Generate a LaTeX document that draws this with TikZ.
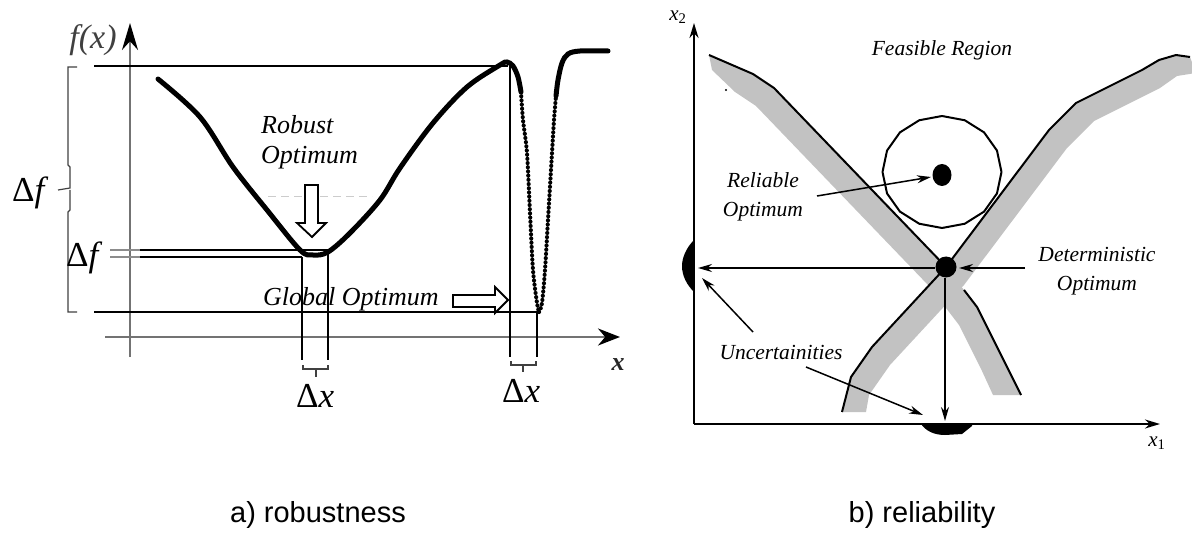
\documentclass[tikz,border=0pt]{standalone}
\usepackage{fontspec}
\setmainfont{Liberation Serif}
\newfontfamily\capfont{Liberation Sans}
\usetikzlibrary{arrows.meta}
\begin{document}
\begin{tikzpicture}[x=1pt,y=-1pt,
  lbl/.style={font=\fontsize{26}{30}\selectfont\itshape, inner sep=0pt, align=left},
  rlbl/.style={font=\fontsize{21.5}{28.5}\selectfont\itshape, inner sep=0pt, align=center},
  dlab/.style={font=\fontsize{35}{38}\selectfont, inner sep=0pt, anchor=base west},
  captext/.style={font=\capfont\fontsize{29}{32}\selectfont, inner sep=0pt},
  ln/.style={line width=2pt, black},
  brk/.style={line width=1.2pt, black!75},
  hollow/.style={line width=1.8pt, draw=black, fill=white, line join=miter},
  arr/.style={line width=1.5pt, -{Stealth[length=14pt,width=8pt]}},
  band/.style={fill=black!24},
  cons/.style={line width=2pt, line join=round},
]
\useasboundingbox (0,0) rectangle (1192,540);

%================ LEFT PANEL =================
\coordinate (fyo) at (130,357); \coordinate (fytip) at (130,23);
\coordinate (fxo) at (105,337); \coordinate (fxtip) at (620,337);
\draw[black!55, line width=2.2pt, -{Stealth[length=27pt,width=16pt,black]}] (fyo) -- (fytip);
\draw[black!55, line width=2.2pt, -{Stealth[length=22pt,width=17pt,black]}] (fxo) -- (fxtip);
\node[font=\fontsize{34}{36}\selectfont\itshape, text=black!75, inner sep=0pt] (flab) at (93,40) {f(x)};
\node[font=\fontsize{26}{28}\selectfont\bfseries\itshape, text=black!85, inner sep=0pt] (xlab) at (618,365) {x};

% faint dashed trace
\draw[black!20, line width=1pt, dash pattern=on 8pt off 5pt] (268,197) -- (372,197);

% main curve
\draw[line width=5pt, line cap=round] plot[smooth, tension=0.55] coordinates {
 (158,79) (200,117) (233,167) (267,210) (300,250) (313,255) (328,252) (350,233)
 (380,200) (400,168) (433,123) (467,87) (500,65) (507,62) (513,66) (518,77) (521,92)};
\draw[line width=4.2pt, line cap=round, dash pattern=on 0pt off 4.2pt] plot[smooth, tension=0.5] coordinates {
 (521,92) (523,120) (527,153) (530,213) (533,270) (537,303) (539,312)};
\draw[line width=4.2pt, line cap=round, dash pattern=on 0pt off 4.2pt] plot[smooth, tension=0.5] coordinates {
 (539,312) (542,303) (545,270) (548,220) (552,153) (554,120) (556,96)};
\draw[line width=5pt, line cap=round] plot[smooth, tension=0.55] coordinates {
 (556,96) (558,80) (562,63) (568,54) (580,51) (608,51)};

% reference lines
\coordinate (tl) at (94,66); \coordinate (tr) at (508,66);
\draw[ln] (tl) -- (tr);
\draw[ln] (510,66) -- (510,357);
\coordinate (bl) at (94,312); \coordinate (br) at (539,312);
\draw[ln] (bl) -- (br);
\draw[ln] (537,312) -- (537,357);
% robust delta f lines
\draw[ln, black!45] (110,250) -- (140,250);
\draw[ln, black!45] (110,257) -- (140,257);
\draw[ln] (140,250) -- (328,250);
\draw[ln] (140,257) -- (302,257);
\draw[ln] (302,257) -- (302,360);
\draw[ln] (328,250) -- (328,360);

% left brace (big delta f)
\draw[brk] (77,67) -- (68,67) -- (68,165) -- (70,167) -- (70,188) -- (58,190);
\draw[brk] (70,190) -- (70,210) -- (68,212) -- (68,312) -- (77,312);
\node[dlab] (dfbig) at (12,202) {Δ\textit{f}};
\node[dlab] (dfsmall) at (66,267) {Δ\textit{f}};

% delta x brackets
\draw[brk] (303,365) -- (303,369) -- (328,369) -- (328,365);
\draw[brk] (316,369) -- (316,377);
\node[dlab] (dxl) at (296,407) {Δ\textit{x}};
\draw[brk] (511,361) -- (511,365) -- (536,365) -- (536,361);
\draw[brk] (523,365) -- (523,372);
\node[dlab] (dxr) at (502,402) {Δ\textit{x}};

% hollow arrows
\draw[hollow] (305,185) -- (318,185) -- (318,223) -- (326,223) -- (312,237) -- (297,223) -- (305,223) -- cycle;
\draw[hollow] (453,295) -- (495,295) -- (495,287) -- (508,300) -- (495,313) -- (495,307) -- (453,307) -- cycle;

\node[lbl, anchor=west] (robust) at (261,142) {Robust\\Optimum};
\node[lbl, anchor=west] (global) at (263,299) {Global Optimum};

%================ RIGHT PANEL =================
\begin{scope}
\clip (0,0) rectangle (1192,540);
% left constraint band
\fill[band] (709,55) -- (753,74) -- (774,88) -- (946,267) -- (964,290) -- (977,307) -- (1000,353) -- (1021,395)
  -- (993,395) -- (982,371) -- (959,325) -- (946,308) -- (928,285) -- (756,106) -- (735,92) -- (712,70) -- cycle;
% right constraint band
\fill[band] (1190,57) -- (1176,55) -- (1159,60) -- (1142,70) -- (1076,103) -- (1049,130) -- (946,267) -- (872,347) -- (851,377) -- (842,412)
  -- (866,412) -- (869,395) -- (890,365) -- (964,285) -- (1067,148) -- (1094,121) -- (1160,88) -- (1177,76) -- (1196,73) -- cycle;
\end{scope}
% stray speck
\fill (726,90) circle (1.2);

% constraint lines
\draw[cons] (709,55) -- (753,74) -- (774,88) -- (946,267);
\draw[cons] (964,290) -- (977,307) -- (1000,353) -- (1021,395);
\draw[cons] (1190,57) -- (1176,55) -- (1159,60) -- (1142,70) -- (1076,103) -- (1049,130) -- (946,267) -- (872,347) -- (851,377) -- (842,412);

% reliability circle (polygon)
\draw[line width=2pt, line join=round] plot[variable=\t, samples at={0,22.5,...,337.5}] ({942+59.5*cos(\t+90)},{172-56*sin(\t+90)}) -- cycle;

% optimum points
\coordinate (rel) at (942,175);
\coordinate (det) at (946,267);
\fill (rel) ellipse (9.5 and 11);
\fill (det) circle (10.5);

% axes
\coordinate (ro) at (694,424);
\coordinate (x2tip) at (694,23);
\coordinate (x1tip) at (1160,424);
\draw[line width=2.2pt, -{Stealth[length=15pt,width=9pt]}] (ro) -- (x2tip);
\draw[line width=2.2pt, -{Stealth[length=15pt,width=9pt]}] (ro) -- (x1tip);
\node[font=\fontsize{21}{24}\selectfont, inner sep=0pt] (x2lab) at (678,17) {\textit{x}\textsubscript{2}};
\node[font=\fontsize{21}{24}\selectfont, inner sep=0pt] (x1lab) at (1157,443) {\textit{x}\textsubscript{1}};

% uncertainty blobs
\fill (694,240) .. controls (686,248) and (682,258) .. (682,266) .. controls (682,276) and (687,285) .. (694,292) -- cycle;
\fill (921,424) .. controls (926,431) and (934,435) .. (945,435) -- (962,434) -- (972,426) -- (972,424) -- cycle;

% labels
\node[rlbl] (feas) at (942,50) {Feasible Region};
\node[rlbl] (rellab) at (763,197) {Reliable\\Optimum};
\node[rlbl] (detlab) at (1097,271) {Deterministic\\Optimum};
\node[rlbl] (unc) at (781,352) {Uncertainities};

% arrows
\coordinate (relA) at (817,196); \coordinate (relB) at (931,177);
\draw[arr] (relA) -- (relB);
\coordinate (detA) at (1025,268); \coordinate (detB) at (959,268);
\draw[arr] (detA) -- (detB);
\coordinate (hA) at (935,268); \coordinate (hB) at (698,268);
\draw[arr] (hA) -- (hB);
\coordinate (vA) at (945,278); \coordinate (vB) at (945,421);
\draw[arr] (vA) -- (vB);
\coordinate (u1A) at (753,332); \coordinate (u1B) at (702,278);
\draw[arr] (u1A) -- (u1B);
\coordinate (u2A) at (806,367); \coordinate (u2B) at (923,415);
\draw[arr] (u2A) -- (u2B);

% captions
\node[captext] (capa) at (318,515) {a) robustness};
\node[captext] (capb) at (922,515) {b) reliability};
\end{tikzpicture}
\end{document}
